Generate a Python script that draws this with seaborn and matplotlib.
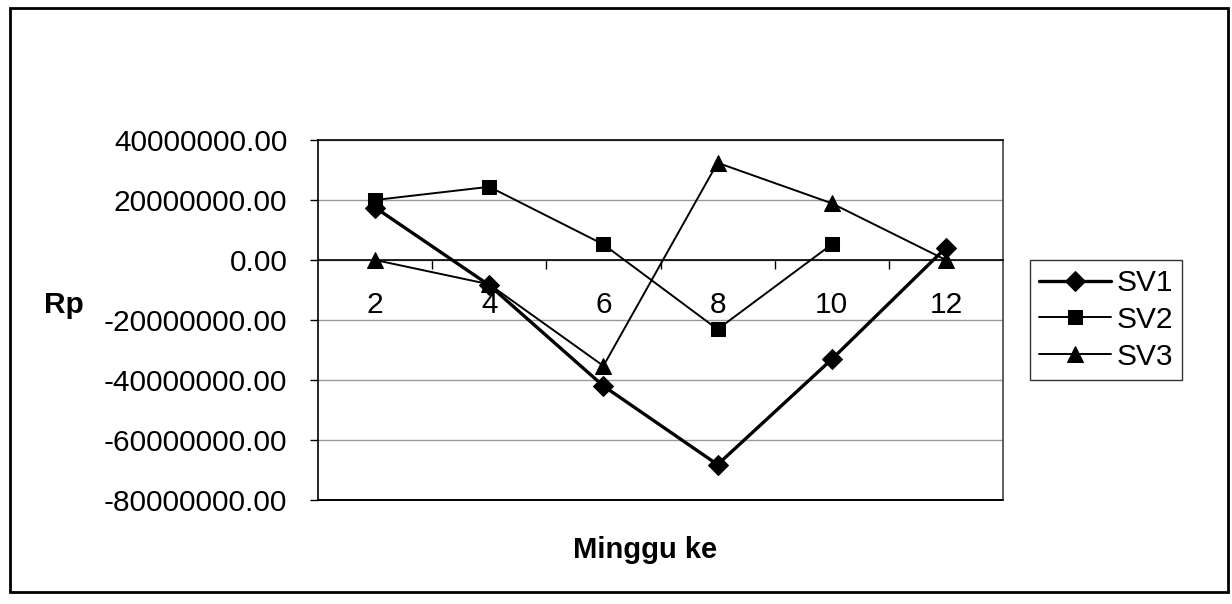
import numpy as np
import pandas as pd
import matplotlib
matplotlib.use('Agg')
import matplotlib.pyplot as plt
import matplotlib.patches as patches
from matplotlib.ticker import FormatStrFormatter, FixedLocator
import seaborn as sns

sns.set_style('white')
plt.rcParams['font.family'] = ['Liberation Sans', 'DejaVu Sans']
plt.rcParams['text.color'] = 'black'
plt.rcParams['xtick.color'] = 'black'
plt.rcParams['ytick.color'] = 'black'
plt.rcParams['axes.labelcolor'] = 'black'

weeks = [2, 4, 6, 8, 10, 12]
sv1 = [17500000, -8400000, -42000000, -68200000, -33100000, 4100000]
sv2 = [20000000, 24400000, 5200000, -23100000, 5200000, np.nan]
sv3 = [0, -8100000, -35300000, 32400000, 18900000, 0]

series = {'SV1': sv1, 'SV2': sv2, 'SV3': sv3}
markers = {'SV1': 'D', 'SV2': 's', 'SV3': '^'}
msizes = {'SV1': 10, 'SV2': 10, 'SV3': 12}
widths = {'SV1': 2.4, 'SV2': 1.4, 'SV3': 1.4}

W, H = 1232, 604
fig = plt.figure(figsize=(W / 100, H / 100), dpi=100)
ax = fig.add_axes([318 / W, 1 - 500 / H, (1003 - 318) / W, (500 - 140) / H])

for name, vals in series.items():
    df = pd.DataFrame({'week': weeks, 'value': vals}).dropna()
    sns.lineplot(data=df, x='week', y='value', ax=ax, color='black',
                 lw=widths[name], marker=markers[name], markersize=msizes[name],
                 markeredgecolor='black', markerfacecolor='black', label=name)

ax.set_xlim(1, 13)
ax.set_ylim(-80000000, 40000000)
ax.set_yticks(np.arange(-80000000, 40000001, 20000000))
ax.yaxis.set_major_formatter(FormatStrFormatter('%.2f'))
ax.set_xticks(weeks)
ax.set_xticklabels([str(w) for w in weeks])
ax.xaxis.set_minor_locator(FixedLocator([3, 5, 7, 9, 11]))
ax.set_xlabel('')
ax.set_ylabel('')

ax.grid(axis='y', color='#9a9a9a', lw=1)
ax.spines['bottom'].set_position(('data', 0))
ax.spines['bottom'].set_color('black')
ax.spines['left'].set_color('black')
ax.spines['top'].set_color('black')
ax.spines['right'].set_color('#444444')
for s in ax.spines.values():
    s.set_linewidth(1.2)
ax.axhline(-80000000, color='black', lw=1.4, clip_on=False, zorder=3)

ax.tick_params(axis='y', direction='out', length=6, width=1, pad=16,
               labelsize=21.5, left=True)
ax.tick_params(axis='x', which='major', length=0, pad=22, labelsize=21.5,
               bottom=True)
ax.tick_params(axis='x', which='minor', direction='out', length=6.5,
               width=1, bottom=True)

leg = ax.legend(loc='upper left', bbox_to_anchor=(1030 / W, 1 - 260 / H),
                bbox_transform=fig.transFigure, fontsize=21.5, frameon=True,
                fancybox=False, edgecolor='black', handlelength=2.4,
                handletextpad=0.2, labelspacing=0.3, borderpad=0.3,
                borderaxespad=0)
leg.get_frame().set_linewidth(1.0)

fig.text(64 / W, 1 - 305 / H, 'Rp', fontsize=21.5, fontweight='bold',
         ha='center', va='center')
fig.text(645 / W, 1 - 550 / H, 'Minggu ke', fontsize=21, fontweight='bold',
         ha='center', va='center')

fig.patches.append(patches.Rectangle((10 / W, 1 - 592 / H), (1228 - 10) / W,
                                     (592 - 8) / H, transform=fig.transFigure,
                                     fill=False, edgecolor='black', lw=2))

fig.savefig('out.png', dpi=100)
